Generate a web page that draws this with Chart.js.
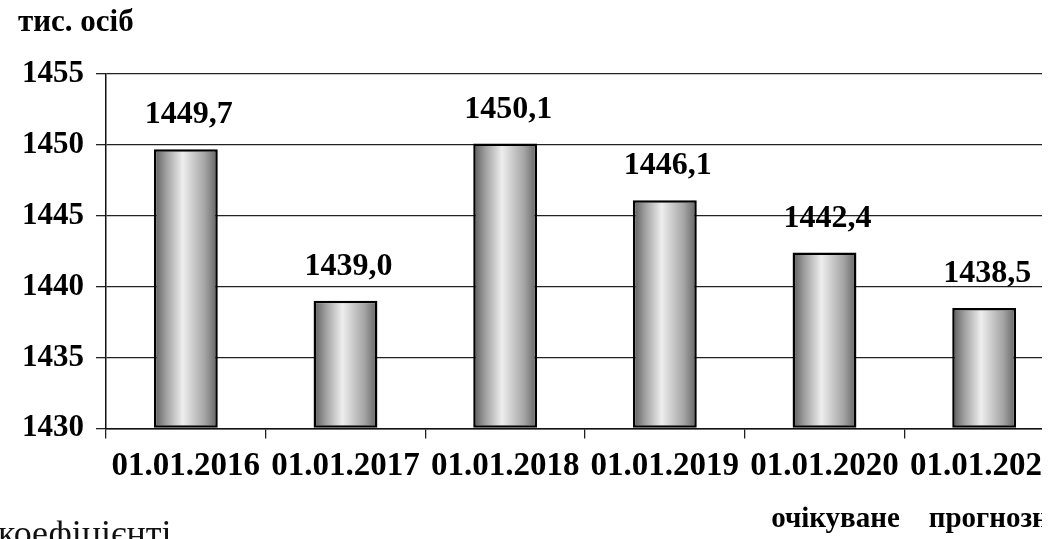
<!DOCTYPE html>
<html>
<head>
<meta charset="utf-8">
<script src="https://cdn.jsdelivr.net/npm/chart.js@4.4.0/dist/chart.umd.min.js"></script>
<style>
  html, body { margin: 0; padding: 0; background: #fff; width: 1060px; height: 539px; overflow: hidden; }
  #wrap { position: absolute; left: 0; top: 0; width: 1042px; height: 539px; overflow: hidden; }
  #note { position: absolute; left: -2px; top: 512px; font: 36px 'Liberation Serif', serif; color: #111; white-space: nowrap; }
</style>
</head>
<body>
<div id="wrap"><canvas id="myChart" width="1075" height="539"></canvas></div>
<div id="note">коефіцієнті</div>
<script>
const categories = ['01.01.2016', '01.01.2017', '01.01.2018', '01.01.2019', '01.01.2020', '01.01.2021'];
const subLabels = ['', '', '', '', 'очікуване', 'прогнозне'];
const population = [1449.7, 1439.0, 1450.1, 1446.1, 1442.4, 1438.5];
const yTicks = [1430, 1435, 1440, 1445, 1450, 1455];
const unitLabel = 'тис. осіб';

const serif = "'Liberation Serif', 'Times New Roman', serif";
const barShare = 0.4;

// cylinder-like gray fill, dark at the sides
function barFill(context) {
  const chart = context.chart;
  const xs = chart.scales.x;
  if (!xs || !chart.chartArea || context.dataIndex === undefined) return '#bbbbbb';
  const c = xs.getPixelForValue(context.dataIndex);
  const half = xs.width / categories.length * barShare / 2;
  if (!isFinite(c) || !isFinite(half)) return '#bbbbbb';
  const g = chart.ctx.createLinearGradient(c - half, 0, c + half, 0);
  g.addColorStop(0, '#5a5a5a');
  g.addColorStop(0.18, '#9c9c9c');
  g.addColorStop(0.45, '#eeeeee');
  g.addColorStop(0.8, '#a4a4a4');
  g.addColorStop(1, '#626262');
  return g;
}

// value captions, the unit caption and the second line under the last dates
const valueLabels = {
  id: 'valueLabels',
  afterDatasetsDraw(chart) {
    const ctx = chart.ctx;
    const meta = chart.getDatasetMeta(0);
    const xs = chart.scales.x;
    ctx.save();
    ctx.fillStyle = '#000';
    ctx.textBaseline = 'middle';

    ctx.textAlign = 'left';
    ctx.font = 'bold 31px ' + serif;
    ctx.fillText(unitLabel, 18, 23);

    ctx.textAlign = 'center';
    ctx.font = 'bold 32px ' + serif;
    meta.data.forEach(function(bar, i) {
      ctx.fillText(population[i].toFixed(1).replace('.', ','), bar.x + 3, bar.y - 34);
    });
    ctx.font = 'bold 29px ' + serif;
    subLabels.forEach(function(txt, i) {
      if (!txt) return;
      ctx.fillText(txt, xs.getPixelForValue(i) + 11, xs.bottom + 26);
    });
    ctx.restore();
  }
};

const ctx = document.getElementById('myChart').getContext('2d');
// eslint-disable-next-line no-undef
const chart = new Chart(ctx, {
  type: 'bar',
  data: {
    labels: categories,
    datasets: [{
      data: population,
      base: yTicks[0],
      backgroundColor: barFill,
      borderColor: '#000',
      borderWidth: 2.5,
      borderSkipped: false,
      barPercentage: barShare,
      categoryPercentage: 1
    }]
  },
  options: {
    responsive: false,
    animation: false,
    layout: { padding: { left: 10, right: 11, top: 74, bottom: 45 } },
    plugins: {
      legend: { display: false },
      tooltip: { enabled: false },
      title: { display: false }
    },
    scales: {
      x: {
        grid: { display: true, drawOnChartArea: false, drawTicks: true, tickLength: 10, color: '#222', lineWidth: 1.3 },
        border: { display: true, color: '#111', width: 1.5 },
        ticks: { color: '#000', padding: 8, maxRotation: 0, autoSkip: false, font: { family: serif, size: 33, weight: 'bold' } }
      },
      y: {
        min: yTicks[0],
        max: yTicks[yTicks.length - 1],
        grid: { color: '#222', lineWidth: 1.3, tickLength: 10 },
        border: { display: true, color: '#111', width: 1.5 },
        ticks: {
          stepSize: yTicks[1] - yTicks[0],
          callback: function(value) { return String(value); },
          color: '#000',
          padding: 12,
          font: { family: serif, size: 31, weight: 'bold' }
        }
      }
    }
  },
  plugins: [valueLabels]
});
</script>
</body>
</html>
